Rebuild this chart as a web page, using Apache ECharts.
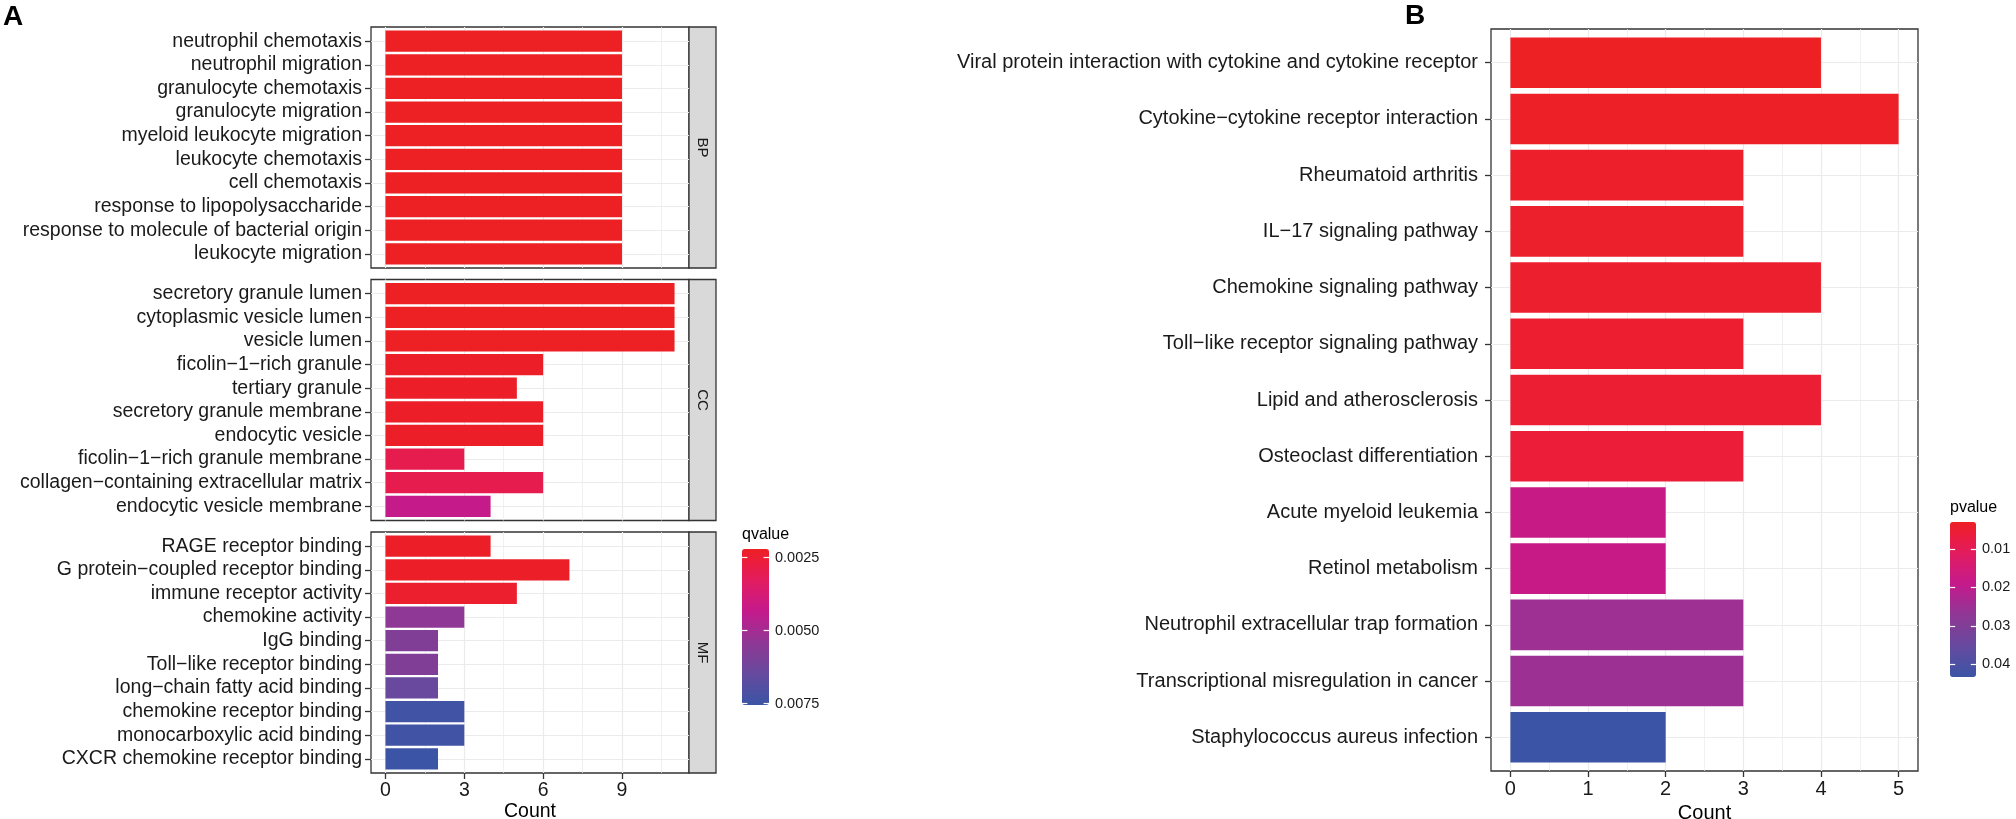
<!DOCTYPE html>
<html><head><meta charset="utf-8">
<script src="https://cdn.jsdelivr.net/npm/echarts@6/dist/echarts.min.js"></script>
<style>html,body{margin:0;padding:0;background:#fff}#c{width:2016px;height:819px}</style>
</head><body><div id="c"></div>
<script>
// ---------------- data ----------------
const bpTerms = ['neutrophil chemotaxis','neutrophil migration','granulocyte chemotaxis','granulocyte migration','myeloid leukocyte migration','leukocyte chemotaxis','cell chemotaxis','response to lipopolysaccharide','response to molecule of bacterial origin','leukocyte migration'];
const bpCounts = [9,9,9,9,9,9,9,9,9,9];
const bpQ = [0.0022,0.0022,0.0022,0.0022,0.0022,0.0022,0.0022,0.0022,0.0022,0.0022];

const ccTerms = ['secretory granule lumen','cytoplasmic vesicle lumen','vesicle lumen','ficolin\u22121\u2212rich granule','tertiary granule','secretory granule membrane','endocytic vesicle','ficolin\u22121\u2212rich granule membrane','collagen\u2212containing extracellular matrix','endocytic vesicle membrane'];
const ccCounts = [11,11,11,6,5,6,6,3,6,4];
const ccQ = [0.0022,0.0022,0.0022,0.0023,0.0023,0.0023,0.0023,0.0030,0.0030,0.0043];

const mfTerms = ['RAGE receptor binding','G protein\u2212coupled receptor binding','immune receptor activity','chemokine activity','IgG binding','Toll\u2212like receptor binding','long\u2212chain fatty acid binding','chemokine receptor binding','monocarboxylic acid binding','CXCR chemokine receptor binding'];
const mfCounts = [4,7,5,3,2,2,2,3,3,2];
const mfQ = [0.0023,0.0023,0.0024,0.0054,0.0058,0.0058,0.0064,0.0074,0.0074,0.00755];

const keggTerms = ['Viral protein interaction with cytokine and cytokine receptor','Cytokine\u2212cytokine receptor interaction','Rheumatoid arthritis','IL\u221217 signaling pathway','Chemokine signaling pathway','Toll\u2212like receptor signaling pathway','Lipid and atherosclerosis','Osteoclast differentiation','Acute myeloid leukemia','Retinol metabolism','Neutrophil extracellular trap formation','Transcriptional misregulation in cancer','Staphylococcus aureus infection'];
const keggCounts = [4,5,3,3,4,3,4,3,2,2,3,3,2];
const keggP = [0.0030,0.0035,0.0039,0.0041,0.0044,0.0047,0.0052,0.0058,0.0180,0.0182,0.0250,0.0252,0.0433];

const ticksA = [0,3,6,9];
const minorA = [1.5,4.5,7.5,10.5];
const ticksB = [0,1,2,3,4,5];
const minorB = [0.5,1.5,2.5,3.5,4.5];
const qTicks = [0.0025,0.0050,0.0075];
const pTicks = [0.01,0.02,0.03,0.04];
const facetNames = ['BP','CC','MF'];

// ---------------- style ----------------
const FONT = "'Liberation Sans', Arial, Helvetica, sans-serif";
const TXT = '#1A1A1A';
const AX = '#333333';
const GRID = '#EBEBEB';
const GRAD = ['#ED2024','#EA1C41','#E21C5E','#D41B77','#C41A8B','#AA2891','#8F3895','#7B4098','#664A9F','#504FA2','#3B54A5'];
const NOZERO = {show:false, onZero:false};

const option = {animation:false, backgroundColor:'#fff', grid:[], xAxis:[], yAxis:[], series:[], visualMap:[], graphic:[]};
const addGrid = g => { g.outerBoundsMode = 'none'; option.grid.push(g); return option.grid.length-1; };
const addX = a => { option.xAxis.push(a); return option.xAxis.length-1; };
const addY = a => { option.yAxis.push(a); return option.yAxis.length-1; };

function panel(p) {
  const n = p.names.length;
  const row = p.height / (n - 1 + 1.2);
  const fg = addGrid({left:p.left, top:p.top, width:p.width, height:p.height, show:true, backgroundColor:'#fff', borderColor:AX, borderWidth:1.3});
  addX({gridIndex:fg, type:'value', min:p.xmin, max:p.xmax, position:'bottom',
    axisLine:NOZERO,
    axisTick:{show:p.showX, customValues:p.major, length:6, lineStyle:{color:AX, width:1.3}},
    axisLabel:{show:p.showX, customValues:p.major, margin:8, color:TXT, fontSize:p.fs, fontFamily:FONT},
    splitLine:{show:true, lineStyle:{color:GRID, width:1.2}},
    name:p.showX ? 'Count' : '', nameLocation:'middle', nameGap:27,
    nameTextStyle:{color:'#000', fontSize:p.fs, fontFamily:FONT}});
  addX({gridIndex:fg, type:'value', min:p.xmin, max:p.xmax, position:'top',
    axisLine:NOZERO, axisTick:{show:false, customValues:p.minor}, axisLabel:{show:false, customValues:p.minor},
    splitLine:{show:true, lineStyle:{color:GRID, width:0.7}}});
  const idx = p.names.map((_, i) => i);
  addY({gridIndex:fg, type:'value', min:-0.6, max:n - 1 + 0.6, inverse:true, position:'left',
    axisLine:NOZERO,
    axisTick:{show:true, customValues:idx, length:6, lineStyle:{color:AX, width:1.3}},
    axisLabel:{show:true, customValues:idx, formatter:v => p.names[Math.round(v)], margin:p.labelMargin, color:TXT, fontSize:p.fs, fontFamily:FONT},
    splitLine:{show:true, lineStyle:{color:GRID, width:1.2}}});
  const dg = addGrid({left:p.left, top:p.top + 0.1 * row, width:p.width, height:p.height - 0.2 * row});
  const dx = addX({gridIndex:dg, type:'value', min:p.xmin, max:p.xmax, show:false, axisLine:NOZERO});
  const dy = addY({gridIndex:dg, type:'category', data:p.names, inverse:true, show:false, axisLine:NOZERO});
  option.series.push({type:'bar', name:p.id, xAxisIndex:dx, yAxisIndex:dy, barWidth:'90%', z:3,
    data:p.counts.map((c, i) => [c, i, p.vals[i]]), encode:{x:0, y:1}});
}

// Panel A facets
const AL = 371, AW = 318, AH = 241, ATOPS = [27, 279.5, 532];
const facetData = [[bpTerms, bpCounts, bpQ], [ccTerms, ccCounts, ccQ], [mfTerms, mfCounts, mfQ]];
facetData.forEach((f, k) => {
  panel({id:facetNames[k], left:AL, top:ATOPS[k], width:AW, height:AH, names:f[0], counts:f[1], vals:f[2],
    xmin:-0.55, xmax:11.55, major:ticksA, minor:minorA, showX:k === 2, labelMargin:9, fs:19.5});
  const sg = addGrid({left:AL + AW, top:ATOPS[k], width:27, height:AH, show:true, backgroundColor:'#D9D9D9', borderColor:AX, borderWidth:1.3});
  addX({gridIndex:sg, type:'value', show:false, axisLine:NOZERO});
  addY({gridIndex:sg, type:'value', show:false, axisLine:NOZERO});
  option.graphic.push({type:'text', x:AL + AW + 13.5, y:ATOPS[k] + AH / 2, rotation:-Math.PI / 2,
    style:{text:facetNames[k], align:'center', verticalAlign:'middle', fill:TXT, font:'15px ' + FONT}});
});

// Panel B
panel({id:'KEGG', left:1491, top:29, width:427, height:742, names:keggTerms, counts:keggCounts, vals:keggP,
  xmin:-0.25, xmax:5.25, major:ticksB, minor:minorB, showX:true, labelMargin:13, fs:20});

// colour bars
const allQ = bpQ.concat(ccQ, mfQ);
const qMin = Math.min(...allQ), qMax = Math.max(...allQ);
const pMin = Math.min(...keggP), pMax = Math.max(...keggP);

function colorbar(c) {
  option.visualMap.push({type:'continuous', seriesIndex:c.series, dimension:2, min:c.min, max:c.max,
    inverse:true, orient:'vertical', left:c.left, top:c.top, itemWidth:c.w, itemHeight:c.h, padding:0,
    calculable:false, text:null, inRange:{color:GRAD}});
  const g = addGrid({left:c.left, top:c.top, width:c.w, height:c.h});
  addX({gridIndex:g, type:'value', show:false, axisLine:NOZERO});
  addY({gridIndex:g, type:'value', min:c.min, max:c.max, inverse:true, position:'right', z:10,
    axisLine:NOZERO,
    axisTick:{show:true, inside:true, customValues:c.ticks, length:c.w / 5, lineStyle:{color:'#fff', width:1.2}},
    axisLabel:{show:true, customValues:c.ticks, formatter:c.fmt, margin:6, color:TXT, fontSize:14.5, fontFamily:FONT},
    splitLine:{show:false}});
  addY({gridIndex:g, type:'value', min:c.min, max:c.max, inverse:true, position:'left', z:10,
    axisLine:NOZERO,
    axisTick:{show:true, inside:true, customValues:c.ticks, length:c.w / 5, lineStyle:{color:'#fff', width:1.2}},
    axisLabel:{show:false}, splitLine:{show:false}});
  option.graphic.push({type:'text', x:c.left, y:c.top - 14, style:{text:c.title, align:'left', verticalAlign:'middle', fill:'#000', font:'16px ' + FONT}});
}
colorbar({series:[0,1,2], min:qMin, max:qMax, left:742, top:549, w:27, h:156, ticks:qTicks, fmt:v => v.toFixed(4), title:'qvalue'});
colorbar({series:[3], min:pMin, max:pMax, left:1950, top:522, w:26, h:155, ticks:pTicks, fmt:v => v.toFixed(2), title:'pvalue'});

// panel tags
option.graphic.push({type:'text', x:3, y:17, style:{text:'A', align:'left', verticalAlign:'middle', fill:'#000', font:'bold 28px ' + FONT}});
option.graphic.push({type:'text', x:1405, y:16, style:{text:'B', align:'left', verticalAlign:'middle', fill:'#000', font:'bold 28px ' + FONT}});

const chart = echarts.init(document.getElementById('c'), null, {renderer:'canvas'});
chart.setOption(option);
</script></body></html>
